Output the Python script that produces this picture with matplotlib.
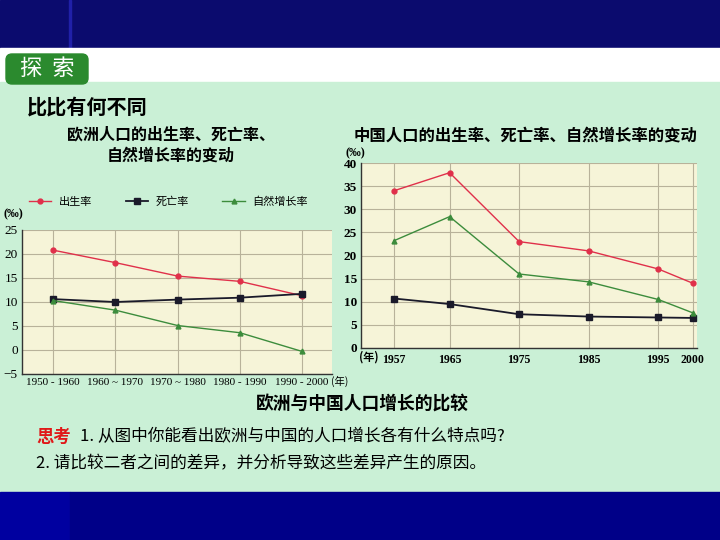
import matplotlib
matplotlib.use('Agg')
import matplotlib.pyplot as plt
from matplotlib.patches import Rectangle, FancyBboxPatch

cjk = ['Noto Sans CJK SC', 'DejaVu Sans']
serif = ['Liberation Serif', 'DejaVu Serif']

# Europe (left chart)
eu_periods = ['1950 - 1960', '1960 ~ 1970', '1970 ~ 1980', '1980 - 1990', '1990 - 2000']
eu_birth = [20.8, 18.2, 15.4, 14.3, 11.3]
eu_death = [10.6, 10.0, 10.5, 10.9, 11.7]
eu_natural = [10.3, 8.3, 5.1, 3.6, -0.3]

# China (right chart)
cn_years = [1957, 1965, 1975, 1985, 1995, 2000]
cn_birth = [34.0, 37.9, 23.0, 21.0, 17.1, 14.0]
cn_death = [10.7, 9.5, 7.3, 6.8, 6.6, 6.5]
cn_natural = [23.2, 28.4, 16.0, 14.3, 10.5, 7.6]

series_names = ['出生率', '死亡率', '自然增长率']

red = '#e0304a'
black = '#1a1a2a'
green = '#3c8c3c'
grid_c = '#b8b29a'
plot_bg = '#f6f4d8'
page_bg = '#caf0d6'

fig = plt.figure(figsize=(7.2, 5.4), dpi=100)

# background in pixel coordinates
bg = fig.add_axes([0, 0, 1, 1])
bg.set_xlim(0, 720)
bg.set_ylim(540, 0)
bg.axis('off')
bg.add_patch(Rectangle((0, 0), 720, 48, color='#0b0b6e'))
bg.add_patch(Rectangle((69, 0), 1.5, 48, color='#2020a8'))
bg.add_patch(Rectangle((0, 48), 720, 34, color='white'))
bg.add_patch(Rectangle((0, 82), 720, 410, color=page_bg))
bg.add_patch(Rectangle((0, 492), 70, 48, color='#0000a0'))
bg.add_patch(Rectangle((70, 492), 650, 48, color='#000088'))
bg.add_patch(FancyBboxPatch((8, 56), 78, 26, boxstyle='round,pad=2,rounding_size=6',
                            color='#2b8a2e'))
bg.text(47, 68, '探  索', color='white', fontsize=16, family=cjk, ha='center', va='center')

bg.text(27, 107, '比比有何不同', fontsize=14.5, family=cjk, weight='bold', ha='left', va='center')
bg.text(171, 134, '欧洲人口的出生率、死亡率、', fontsize=11.5, family=cjk, weight='bold',
        ha='center', va='center')
bg.text(171, 156, '自然增长率的变动', fontsize=11.5, family=cjk, weight='bold',
        ha='center', va='center')
bg.text(526, 135, '中国人口的出生率、死亡率、自然增长率的变动', fontsize=11.8, family=cjk,
        weight='bold', ha='center', va='center')
bg.text(13, 214, '(‰)', fontsize=8.5, family=serif, weight='bold', ha='center', va='center')
bg.text(355, 153, '(‰)', fontsize=8.5, family=serif, weight='bold', ha='center', va='center')
bg.text(362, 404, '欧洲与中国人口增长的比较', fontsize=12.8, family=cjk, weight='bold',
        ha='center', va='center')
bg.text(36, 437, '思考', fontsize=12.5, family=cjk, weight='bold', color='#e01818',
        ha='left', va='center')
bg.text(80, 437, '1. 从图中你能看出欧洲与中国的人口增长各有什么特点吗?', fontsize=12,
        family=cjk, ha='left', va='center')
bg.text(36, 464, '2. 请比较二者之间的差异，并分析导致这些差异产生的原因。', fontsize=12,
        family=cjk, ha='left', va='center')

# left chart: Europe
ax1 = fig.add_axes([22 / 720, (540 - 374) / 540, 310 / 720, 144 / 540])
ax1.set_facecolor(plot_bg)
x = list(range(len(eu_periods)))
l1, = ax1.plot(x, eu_birth, color=red, lw=1, marker='o', ms=3.5, label=series_names[0])
l2, = ax1.plot(x, eu_death, color=black, lw=1.3, marker='s', ms=4.5, label=series_names[1])
l3, = ax1.plot(x, eu_natural, color=green, lw=1, marker='^', ms=3.5, label=series_names[2])
ax1.set_xlim(-0.5, 4.48)
ax1.set_ylim(-5, 25)
ax1.set_yticks(range(-5, 26, 5))
ax1.set_xticks(x)
ax1.set_xticklabels(eu_periods)
ax1.grid(True, color=grid_c, lw=0.8)
ax1.set_axisbelow(True)
ax1.tick_params(length=0, labelsize=8, pad=3)
ax1.tick_params(axis='y', labelsize=9.5)
for lab in ax1.get_xticklabels() + ax1.get_yticklabels():
    lab.set_family(serif)
for s in ['top', 'right']:
    ax1.spines[s].set_visible(False)
for s in ['left', 'bottom']:
    ax1.spines[s].set_color('#333333')
    ax1.spines[s].set_linewidth(1)
bg.text(331, 381, '(年)', fontsize=7.5, family=cjk, ha='left', va='center')

fig.legend(handles=[l1, l2, l3], loc='center left', ncol=3, frameon=False,
           bbox_to_anchor=(29 / 720, (540 - 202) / 540), bbox_transform=fig.transFigure,
           borderpad=0, borderaxespad=0, handlelength=2, handletextpad=0.7,
           columnspacing=3, prop={'family': cjk, 'size': 8})

# right chart: China
ax2 = fig.add_axes([361 / 720, (540 - 348) / 540, 336 / 720, 185 / 540])
ax2.set_facecolor(plot_bg)
ax2.plot(cn_years, cn_birth, color=red, lw=1, marker='o', ms=3.5)
ax2.plot(cn_years, cn_death, color=black, lw=1.3, marker='s', ms=4)
ax2.plot(cn_years, cn_natural, color=green, lw=1, marker='^', ms=3.5)
ax2.set_xlim(1952.25, 2000.6)
ax2.set_ylim(0, 40)
ax2.set_yticks(range(0, 41, 5))
ax2.set_xticks(cn_years)
ax2.grid(True, color=grid_c, lw=0.8)
ax2.set_axisbelow(True)
ax2.tick_params(length=0, labelsize=8.5, pad=4)
ax2.tick_params(axis='y', labelsize=9.5, pad=3)
for lab in ax2.get_xticklabels() + ax2.get_yticklabels():
    lab.set_family(serif)
    lab.set_weight('bold')
for s in ['top', 'right']:
    ax2.spines[s].set_visible(False)
for s in ['left', 'bottom']:
    ax2.spines[s].set_color('#333333')
    ax2.spines[s].set_linewidth(1)
bg.text(369, 357, '(年)', fontsize=8, family=cjk, weight='bold', ha='center', va='center')

fig.savefig('out.png', dpi=100)
